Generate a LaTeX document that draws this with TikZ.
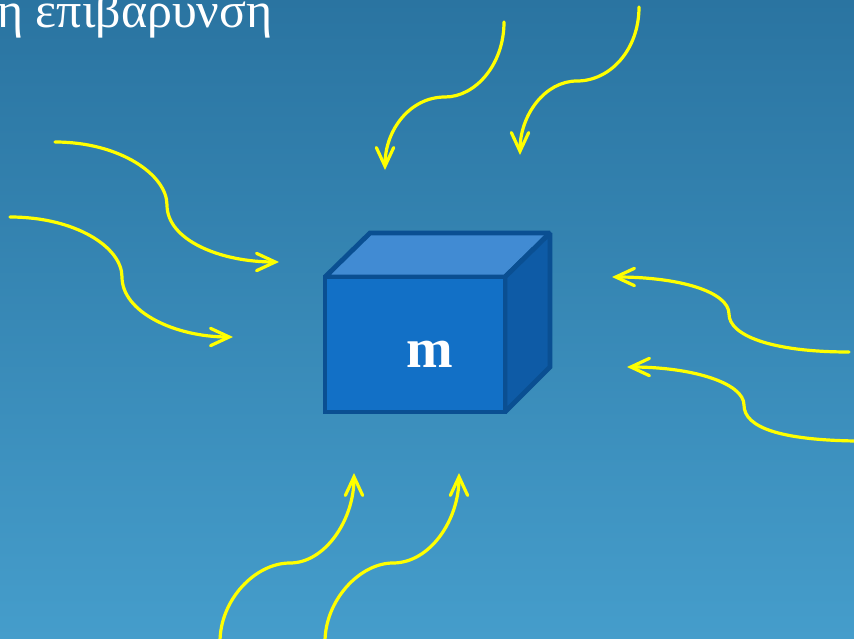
\documentclass[tikz,border=0pt]{standalone}
\usepackage{fontspec}
\setmainfont{Liberation Serif}
\usetikzlibrary{arrows.meta}

\definecolor{bgtop}{HTML}{2A74A1}
\definecolor{bgbot}{HTML}{459DCB}
\definecolor{boxedge}{HTML}{0A4F92}
\definecolor{boxfront}{HTML}{1270C6}
\definecolor{boxtop}{HTML}{418BD3}
\definecolor{boxside}{HTML}{0E5BA6}
\definecolor{flowyellow}{HTML}{FFFF00}

\tikzset{
  influx/.style={draw=flowyellow,line width=2.4pt,line cap=round,->},
  boxface/.style={draw=boxedge,line width=3.6pt,line join=miter,miter limit=1.5}
}

\begin{document}
\begin{tikzpicture}[x=0.75pt,y=-0.75pt,>={Straight Barb[length=14pt,width=13pt,line cap=round]}]
\useasboundingbox (0,0) rectangle (854,639);
\shade[top color=bgtop,bottom color=bgbot] (0,0) rectangle (854,639);

\node[anchor=base west,text=white,font=\fontsize{37.5}{40}\selectfont,inner sep=0pt] (title) at (-3,27) {η επιβαρυνση};

% the box
\coordinate (fa) at (325,277);
\coordinate (fb) at (505,277);
\coordinate (fc) at (505,412);
\coordinate (fd) at (325,412);
\coordinate (ba) at (370,233);
\coordinate (bb) at (550,233);
\coordinate (bc) at (550,367);

\filldraw[boxface,fill=boxtop] (fa) -- (ba) -- (bb) -- (fb) -- cycle;
\filldraw[boxface,fill=boxside] (fb) -- (bb) -- (bc) -- (fc) -- cycle;
\filldraw[boxface,fill=boxfront] (fa) -- (fb) -- (fc) -- (fd) -- cycle;

\node[anchor=base,text=white,font=\fontsize{42}{44}\selectfont\bfseries] (mass) at (430,367) {m};

% arrows from the left
\coordinate (l1s) at (55,142);
\coordinate (l1e) at (279,262);
\coordinate (l2s) at (10,217);
\coordinate (l2e) at (233,337);
\draw[influx] (l1s) .. controls (120,142) and (167,175) .. (167,205)
  .. controls (167,240) and (220,262) .. (l1e);
\draw[influx] (l2s) .. controls (75,217) and (122,247) .. (122,277)
  .. controls (122,312) and (175,337) .. (l2e);

% arrows from the top
\coordinate (t1s) at (504,22);
\coordinate (t1e) at (385,170);
\coordinate (t2s) at (639,7);
\coordinate (t2e) at (520,155);
\draw[influx] (t1s) .. controls (504,65) and (475,97) .. (445,97)
  .. controls (410,97) and (385,130) .. (t1e);
\draw[influx] (t2s) .. controls (639,50) and (610,81) .. (577,81)
  .. controls (545,81) and (520,115) .. (t2e);

% arrows from the right
\coordinate (r1s) at (849,352);
\coordinate (r1e) at (612,277);
\coordinate (r2s) at (856,441);
\coordinate (r2e) at (627,367);
\draw[influx] (r1s) .. controls (770,352) and (729,335) .. (729,314)
  .. controls (729,292) and (680,277) .. (r1e);
\draw[influx] (r2s) .. controls (782,440) and (744,428) .. (744,405)
  .. controls (744,383) and (692,367) .. (r2e);

% arrows from below
\coordinate (b1s) at (220,642);
\coordinate (b1e) at (354,473);
\coordinate (b2s) at (325,642);
\coordinate (b2e) at (459,473);
\draw[influx] (b1s) .. controls (220,600) and (255,563) .. (290,563)
  .. controls (325,563) and (354,520) .. (b1e);
\draw[influx] (b2s) .. controls (325,600) and (360,563) .. (393,563)
  .. controls (430,563) and (459,520) .. (b2e);
\end{tikzpicture}
\end{document}
